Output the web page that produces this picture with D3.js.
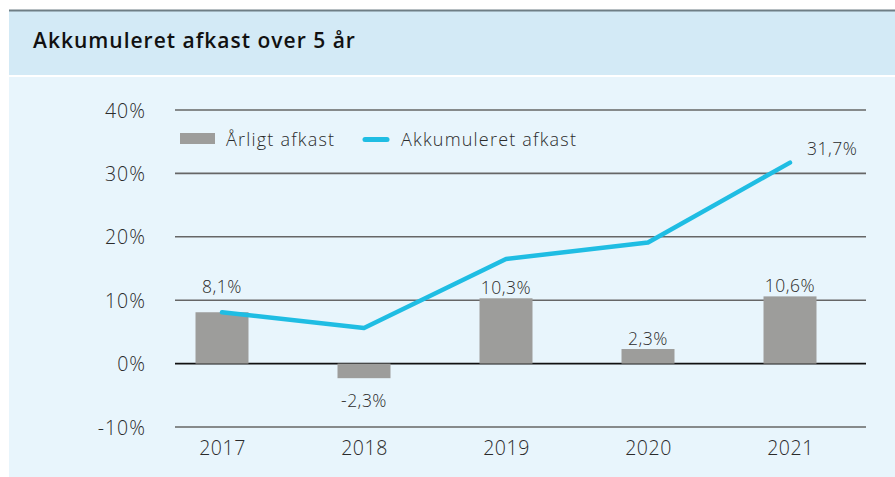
<!DOCTYPE html>
<html><head><meta charset="utf-8">
<script src="https://cdn.jsdelivr.net/npm/d3@7"></script>
<style>
html,body{margin:0;padding:0;background:#fff;}
svg{display:block;}
text{font-family:"Open Sans",sans-serif;}
</style></head>
<body><svg id="c" width="895" height="477"></svg>
<script>
const years = ["2017","2018","2019","2020","2021"];
const annual = [8.1, -2.3, 10.3, 2.3, 10.6];
const cumulative = [8.1, 5.6, 16.5, 19.1, 31.7];
const annualLabels = ["8,1%","-2,3%","10,3%","2,3%","10,6%"];
const cumulativeEndLabel = "31,7%";
const yTicks = [-10, 0, 10, 20, 30, 40];
const title = "Akkumuleret afkast over 5 år";
const legendNames = ["Årligt afkast", "Akkumuleret afkast"];

const svg = d3.select("#c");
const barColor = "#9d9d9b", lineColor = "#1fbde3", textColor = "#2b2b2b";

// panels
svg.append("rect").attr("x",9).attr("y",11).attr("width",886).attr("height",64).attr("fill","#d3eaf6");
svg.append("rect").attr("x",9).attr("y",77).attr("width",886).attr("height",400).attr("fill","#e8f5fc");
svg.append("line").attr("x1",9).attr("x2",895).attr("y1",10.5).attr("y2",10.5).attr("stroke","#6f7e85").attr("stroke-width",2);
svg.append("text").attr("x",33).attr("y",48).attr("font-size",21).attr("font-weight",600)
  .attr("letter-spacing",1.0).attr("fill","#111").text(title);

const y = d3.scaleLinear().domain([-10,40]).range([427,110]);
const x = d3.scalePoint().domain(years).range([222,790]);
const gx0 = 175, gx1 = 866, barW = 53;

// gridlines
svg.append("g").selectAll("line").data(yTicks).join("line")
  .attr("x1",gx0).attr("x2",gx1).attr("y1",d=>y(d)).attr("y2",d=>y(d))
  .attr("stroke",d=>d===0?"#111":"#666").attr("stroke-width",1.6);

// y axis labels
const yAxis = d3.axisLeft(y).tickValues(yTicks).tickSize(0).tickPadding(0).tickFormat(d=>d+"%");
const ga = svg.append("g").attr("transform","translate(146,0)").call(yAxis);
ga.select(".domain").remove();
ga.selectAll("text").attr("font-size",19.5).attr("font-weight",300).attr("fill",textColor)
  .attr("letter-spacing",1).attr("font-family","'Open Sans',sans-serif").attr("dy","0.36em");

// x axis labels
const xAxis = d3.axisBottom(x).tickSize(0).tickPadding(0);
const gb = svg.append("g").attr("transform","translate(0,437)").call(xAxis);
gb.select(".domain").remove();
gb.selectAll("text").attr("font-size",19.5).attr("font-weight",300).attr("fill",textColor)
  .attr("letter-spacing",0.5).attr("font-family","'Open Sans',sans-serif").attr("dy","0.92em");

// bars
svg.append("g").selectAll("rect").data(annual).join("rect")
  .attr("x",(d,i)=>x(years[i])-barW/2).attr("width",barW)
  .attr("y",d=>y(Math.max(0,d))).attr("height",d=>Math.abs(y(d)-y(0)))
  .attr("fill",barColor);

// line
const line = d3.line().x((d,i)=>x(years[i])).y(d=>y(d));
svg.append("path").datum(cumulative).attr("d",line).attr("fill","none")
  .attr("stroke",lineColor).attr("stroke-width",4.5).attr("stroke-linecap","round").attr("stroke-linejoin","round");

// bar labels
svg.append("g").selectAll("text").data(annual).join("text")
  .attr("x",(d,i)=>x(years[i])).attr("text-anchor","middle")
  .attr("y",(d,i)=>{
    if(d<0) return y(d)+29;
    const top = Math.min(y(d), i===0 ? y(cumulative[i])-15 : y(d));
    return top-4;
  })
  .attr("font-size",17.5).attr("font-weight",300).attr("letter-spacing",0.5).attr("fill",textColor)
  .text((d,i)=>annualLabels[i]);

// end label
svg.append("text").attr("x",x(years[4])+17).attr("y",y(cumulative[4])-8)
  .attr("font-size",17.5).attr("font-weight",300).attr("letter-spacing",0.5).attr("fill",textColor).text(cumulativeEndLabel);

// legend
svg.append("rect").attr("x",180).attr("y",133).attr("width",35).attr("height",11).attr("fill",barColor);
svg.append("text").attr("x",226).attr("y",146).attr("font-size",18).attr("font-weight",300)
  .attr("letter-spacing",1.2).attr("fill",textColor).text(legendNames[0]);
svg.append("line").attr("x1",365).attr("x2",387).attr("y1",139.5).attr("y2",139.5)
  .attr("stroke",lineColor).attr("stroke-width",5).attr("stroke-linecap","round");
svg.append("text").attr("x",401).attr("y",146).attr("font-size",18).attr("font-weight",300)
  .attr("letter-spacing",1.2).attr("fill",textColor).text(legendNames[1]);
</script></body></html>
